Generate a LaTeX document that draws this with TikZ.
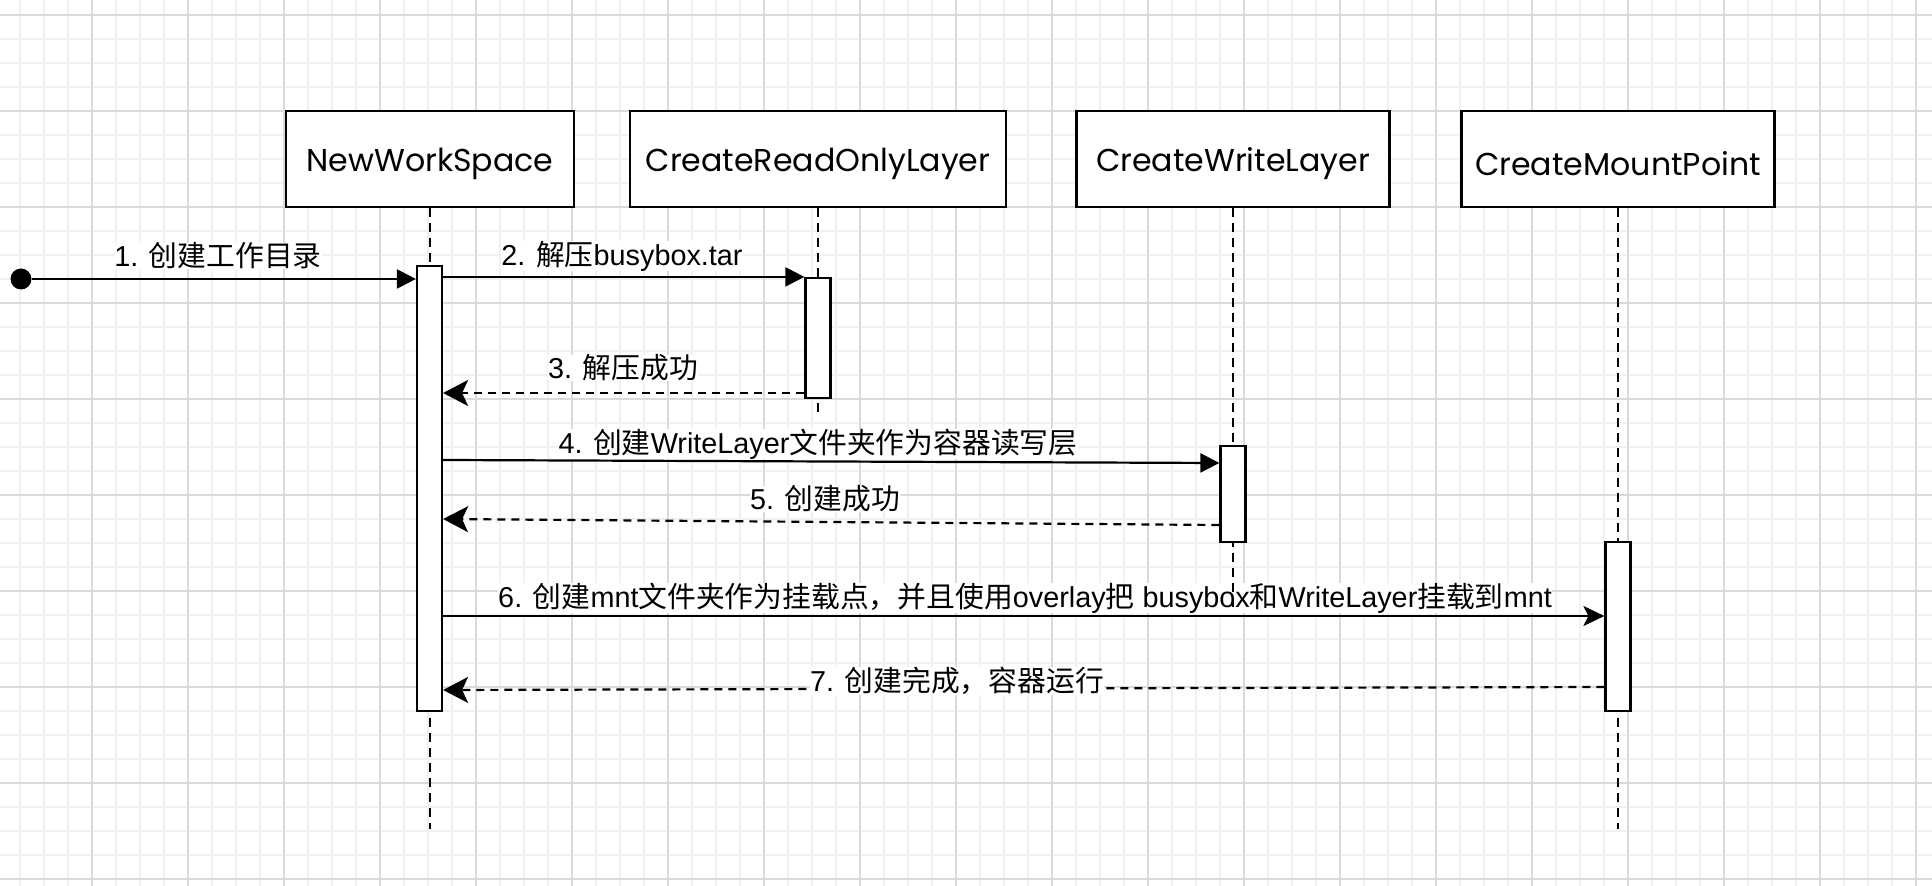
\documentclass[tikz,border=0pt]{standalone}
\usepackage{fontspec}
\setmainfont{Liberation Sans}
\newfontfamily\cjk{Noto Sans CJK SC}
\newfontfamily\headfont{Poppins}
\usetikzlibrary{arrows.meta}
\pgfdeclarelayer{bg}
\pgfdeclarelayer{msgl}
\pgfdeclarelayer{lbl}
\pgfdeclarelayer{life}
\pgfsetlayers{bg,msgl,lbl,life,main}
\definecolor{gridminor}{HTML}{F1F1F1}
\definecolor{gridmajor}{HTML}{DADADA}
\newcommand{\zh}[1]{{\cjk #1}}
\newcommand{\lowr}[1]{\raisebox{-2.5pt}[\height][\depth]{#1}}
\tikzset{
  headbox/.style={draw, line width=1.3pt, fill=white, minimum height=48pt, inner sep=0pt,
    font=\headfont\fontsize{15.8}{18}\selectfont},
  actbox/.style={draw, line width=1.1pt, fill=white, minimum width=12.5pt, inner sep=0pt},
  lifeline/.style={line width=1pt, dash pattern=on 4.5pt off 3pt},
  msgline/.style={line width=1.1pt, -{Triangle[length=9.5pt,width=9.5pt]}},
  msgopen/.style={line width=1.1pt, -{Stealth[length=10.5pt,width=10pt,inset=2.5pt]}},
  retline/.style={line width=1.1pt, dash pattern=on 4pt off 3pt, -{Stealth[length=12.5pt,width=13pt,inset=3pt]}},
  msglabel/.style={fill=white, inner sep=0pt, font=\fontsize{14.4}{16}\selectfont},
}
\begin{document}
\begin{tikzpicture}[x=0.5pt,y=-0.5pt]
\useasboundingbox (0,0) rectangle (1932,886);
% grid
\begin{pgfonlayer}{bg}
\fill[white] (0,0) rectangle (1932,886);
\foreach \i in {0,...,80} \draw[gridminor, line width=0.6pt] ({-4+24*\i},0) -- ({-4+24*\i},886);
\foreach \j in {0,...,36} \draw[gridminor, line width=0.6pt] (0,{15+24*\j}) -- (1932,{15+24*\j});
\foreach \i in {0,...,20} \draw[gridmajor, line width=0.7pt] ({-4+96*\i},0) -- ({-4+96*\i},886);
\foreach \j in {0,...,9} \draw[gridmajor, line width=0.7pt] (0,{15+96*\j}) -- (1932,{15+96*\j});
\end{pgfonlayer}
% heads
\node[headbox, minimum width=144pt] (nwh) at (430,159) {\lowr{NewWorkSpace}};
\node[headbox, minimum width=188pt] (roh) at (818,159) {\lowr{CreateReadOnlyLayer}};
\node[headbox, minimum width=156.5pt] (wlh) at (1233,159) {\lowr{CreateWriteLayer}};
\node[headbox, minimum width=156.5pt] (mph) at (1618,159) {\lowr{CreateMountPoint}};
% activations
\node[actbox, minimum height=222.5pt] (nwa) at (429.5,488.5) {};
\node[actbox, minimum height=60pt] (roa) at (818,338) {};
\node[actbox, minimum height=48pt] (wla) at (1233,494) {};
\node[actbox, minimum height=84.5pt] (mpa) at (1618,626.5) {};
% start dot
\node[circle, fill=black, inner sep=0pt, minimum size=10.5pt] (dot) at (21,279) {};
% lifeline ends and message levels
\coordinate (nwe) at (430,829);
\coordinate (roe) at (818,415);
\coordinate (wle) at (1233,612);
\coordinate (mpe) at (1618,829);
\coordinate (y3) at (0,393);
\coordinate (y4a) at (0,460);
\coordinate (y4b) at (0,463);
\coordinate (y5a) at (0,525);
\coordinate (y5b) at (0,519);
\coordinate (y6) at (0,616);
\coordinate (y7a) at (0,687);
\coordinate (y7b) at (0,690);
% lifelines
\begin{pgfonlayer}{life}
\draw[lifeline] (nwh.south) -- (nwe);
\draw[lifeline] (roh.south) -- (roe);
\draw[lifeline] (wlh.south) -- (wle);
\draw[lifeline] (mph.south) -- (mpe);
\end{pgfonlayer}
% messages
\begin{pgfonlayer}{msgl}
\draw[msgline] (dot) -- (nwa.west |- dot);
\draw[msgline] (nwa.east |- roa.north) -- (roa.north west);
\draw[retline] (roa.west |- y3) -- (nwa.east |- y3);
\draw[msgline] (nwa.east |- y4a) -- (wla.west |- y4b);
\draw[retline] (wla.west |- y5a) -- (nwa.east |- y5b);
\draw[msgopen] (nwa.east |- y6) -- (mpa.west |- y6);
\draw[retline] (mpa.west |- y7a) -- (nwa.east |- y7b);
\end{pgfonlayer}
% labels
\begin{pgfonlayer}{lbl}
\node[msglabel] (l1) at (218,256) {1. \zh{创建工作目录}};
\node[msglabel] (l2) at (622,256) {2. \zh{解压}busybox.tar};
\node[msglabel] (l3) at (623,368) {3. \zh{解压成功}};
\node[msglabel] (l4) at (818,444) {4. \zh{创建}WriteLayer\zh{文件夹作为容器读写层}};
\node[msglabel] (l5) at (825,499) {5. \zh{创建成功}};
\node[msglabel] (l6) at (1025,598) {6. \zh{创建}mnt\zh{文件夹作为挂载点，并且使用}overlay\zh{把} busybox\zh{和}WriteLayer\zh{挂载到}mnt};
\node[msglabel] (l7) at (957,681) {7. \zh{创建完成，容器运行}};
\end{pgfonlayer}
\end{tikzpicture}
\end{document}
